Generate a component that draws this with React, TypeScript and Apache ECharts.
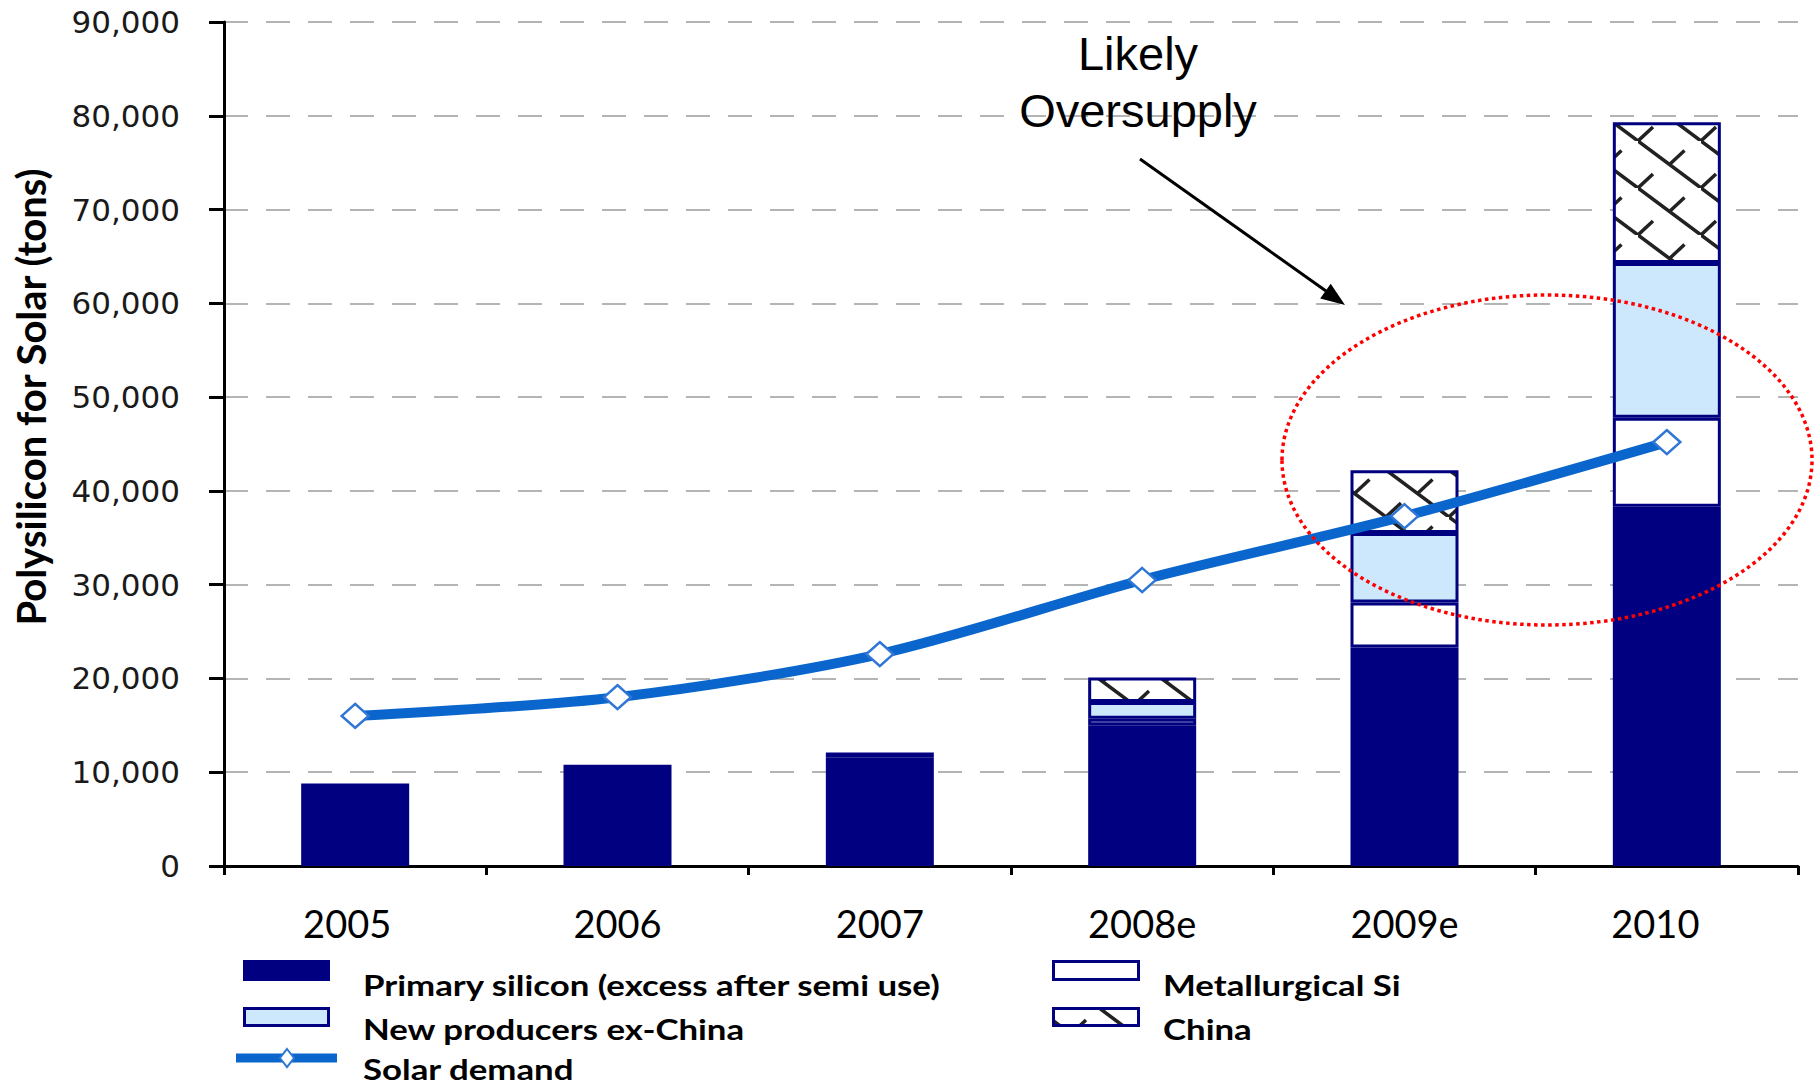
import React, { useEffect, useRef } from 'react';
import * as echarts from 'echarts';

// ---------- data ----------
const categories = ['2005', '2006', '2007', '2008e', '2009e', '2010'];
const primarySilicon = [8800, 10800, 11600, 15000, 23300, 38300];
const metallurgicalSi = [null, null, 500, 700, 4800, 9500];
const newProducersExChina = [null, null, null, 1800, 7400, 16500];
const chinaSupply = [null, null, null, 2600, 6700, 15000];
const solarDemand = [16000, 18000, 22600, 30500, 37300, 45200];
const yMin = 0;
const yMax = 90000;
const yInterval = 10000;

const seriesNames = {
  primary: 'Primary silicon (excess after semi use)',
  newProd: 'New producers ex-China',
  demand: 'Solar demand',
  metal: 'Metallurgical Si',
  china: 'China',
};

const NAVY = '#000080';
const LIGHT_BLUE = '#CDE8FC';
const LINE_BLUE = '#0A66CC';
const DIAMOND_BORDER = '#2F76D6';

function makeShinglePattern(): HTMLCanvasElement {
  const W = 63;
  const H = 47;
  const c = document.createElement('canvas');
  c.width = W;
  c.height = H;
  const ctx = c.getContext('2d')!;
  ctx.fillStyle = '#ffffff';
  ctx.fillRect(0, 0, W, H);
  ctx.strokeStyle = '#222222';
  ctx.lineWidth = 3.5;
  ctx.beginPath();
  ctx.moveTo(-2, -1.5);
  ctx.lineTo(W + 2, H + 1.5);
  ctx.moveTo(W / 2, H / 2);
  ctx.lineTo(W / 2 + 15, H / 2 - 14);
  ctx.moveTo(0, H);
  ctx.lineTo(15, H - 14);
  ctx.moveTo(W, H);
  ctx.lineTo(W + 15, H - 14);
  ctx.moveTo(W, 0);
  ctx.lineTo(W + 15, -14);
  ctx.stroke();
  return c;
}

export default function App() {
  const ref = useRef<HTMLDivElement>(null);

  useEffect(() => {
    if (!ref.current) return;
    const chart = echarts.init(ref.current, undefined, { renderer: 'svg' });
    const pattern = { image: makeShinglePattern(), repeat: 'repeat' };

    const barBase = {
      type: 'bar',
      stack: 'supply',
      barWidth: 108,
      emphasis: { disabled: true },
    };

    const legendFont = {
      fontFamily: 'Lato',
      fontWeight: 'bold',
      fontSize: 29,
      lineHeight: 30,
      fill: '#000',
      align: 'left',
      verticalAlign: 'middle',
    };
    const legendText = (text: string, x: number, y: number) => ({
      type: 'text',
      x,
      y,
      scaleX: 1.2,
      z: 100,
      style: { ...legendFont, text, x: 0, y: 0 },
    });

    const xLabelFont = { fontFamily: 'Lato', fontSize: 38, color: '#000' };

    const option: any = {
      animation: false,
      backgroundColor: '#ffffff',
      grid: { left: 224, right: 16, top: 22, bottom: 222, containLabel: false },
      xAxis: {
        type: 'category',
        data: categories,
        boundaryGap: true,
        axisLine: { lineStyle: { color: '#000', width: 3 } },
        axisTick: { show: true, length: 9, lineStyle: { color: '#000', width: 3 } },
        axisLabel: {
          ...xLabelFont,
          margin: 38,
          formatter: (v: string, i: number) =>
            i === 0 ? `{a|${v}}` : i === categories.length - 1 ? `{b|${v}}` : `{n|${v}}`,
          rich: {
            n: { ...xLabelFont },
            a: { ...xLabelFont, padding: [0, 16, 0, 0] },
            b: { ...xLabelFont, padding: [0, 23, 0, 0] },
          },
        },
        splitLine: { show: false },
      },
      yAxis: {
        type: 'value',
        min: yMin,
        max: yMax,
        interval: yInterval,
        name: 'Polysilicon for Solar (tons)',
        nameLocation: 'middle',
        nameGap: 173,
        nameTextStyle: {
          fontFamily: 'Lato',
          fontWeight: 'bold',
          fontSize: 40,
          color: '#000',
          padding: [0, 0, 0, 94],
        },
        axisLine: { show: true, lineStyle: { color: '#000', width: 3 } },
        axisTick: { show: true, length: 15, lineStyle: { color: '#000', width: 3 } },
        axisLabel: {
          fontFamily: 'DejaVu Sans',
          fontSize: 31,
          color: '#1a1a1a',
          margin: 44,
          formatter: (v: number) => v.toLocaleString('en-US'),
        },
        splitLine: { show: true, lineStyle: { color: '#b4b4b4', width: 2, type: [24, 18] } },
      },
      series: [
        {
          ...barBase,
          name: seriesNames.primary,
          data: primarySilicon,
          itemStyle: { color: NAVY },
        },
        {
          ...barBase,
          name: seriesNames.metal,
          data: metallurgicalSi,
          itemStyle: { color: '#ffffff', borderColor: NAVY, borderWidth: 3 },
        },
        {
          ...barBase,
          name: seriesNames.newProd,
          data: newProducersExChina,
          itemStyle: { color: LIGHT_BLUE, borderColor: NAVY, borderWidth: 3 },
        },
        {
          ...barBase,
          name: seriesNames.china,
          data: chinaSupply,
          itemStyle: { color: pattern, borderColor: NAVY, borderWidth: 3 },
        },
        {
          name: seriesNames.demand,
          type: 'line',
          data: solarDemand,
          smooth: 0.3,
          symbol: 'diamond',
          symbolSize: [27, 24],
          z: 5,
          lineStyle: { color: LINE_BLUE, width: 10 },
          itemStyle: { color: '#ffffff', borderColor: DIAMOND_BORDER, borderWidth: 2.5 },
          emphasis: { disabled: true },
        },
      ],
      graphic: [
        // annotation
        {
          type: 'text',
          z: 100,
          style: {
            text: 'Likely',
            x: 1138,
            y: 53,
            align: 'center',
            verticalAlign: 'middle',
            fontFamily: 'Liberation Sans',
            fontSize: 47,
            fill: '#000',
          },
        },
        {
          type: 'text',
          z: 100,
          style: {
            text: 'Oversupply',
            x: 1138,
            y: 110,
            align: 'center',
            verticalAlign: 'middle',
            fontFamily: 'Liberation Sans',
            fontSize: 47,
            fill: '#000',
          },
        },
        {
          type: 'line',
          z: 100,
          shape: { x1: 1140, y1: 159, x2: 1326, y2: 291 },
          style: { stroke: '#000', lineWidth: 3 },
        },
        {
          type: 'polygon',
          z: 100,
          shape: { points: [[1345, 305], [1320.2, 298.4], [1330.7, 283.8]] },
          style: { fill: '#000' },
        },
        {
          type: 'ellipse',
          z: 100,
          shape: { cx: 1547, cy: 460, rx: 265, ry: 165 },
          style: { fill: 'none', stroke: '#ff0000', lineWidth: 3.5, lineDash: [3.5, 3.5] },
        },
        // legend (left column)
        {
          type: 'rect',
          z: 100,
          shape: { x: 243, y: 960, width: 87, height: 21 },
          style: { fill: NAVY },
        },
        legendText(seriesNames.primary, 363, 985),
        {
          type: 'rect',
          z: 100,
          shape: { x: 244.5, y: 1008.5, width: 84, height: 17 },
          style: { fill: LIGHT_BLUE, stroke: NAVY, lineWidth: 3 },
        },
        legendText(seriesNames.newProd, 363, 1029),
        {
          type: 'line',
          z: 100,
          shape: { x1: 236, y1: 1058, x2: 337, y2: 1058 },
          style: { stroke: LINE_BLUE, lineWidth: 9 },
        },
        {
          type: 'polygon',
          z: 101,
          shape: { points: [[287, 1049], [294, 1058], [287, 1067], [280, 1058]] },
          style: { fill: '#ffffff', stroke: DIAMOND_BORDER, lineWidth: 2 },
        },
        legendText(seriesNames.demand, 363, 1069),
        // legend (right column)
        {
          type: 'rect',
          z: 100,
          shape: { x: 1053.5, y: 961.5, width: 85, height: 18 },
          style: { fill: '#ffffff', stroke: NAVY, lineWidth: 3 },
        },
        legendText(seriesNames.metal, 1163, 985),
        {
          type: 'rect',
          z: 100,
          shape: { x: 1053.5, y: 1008.5, width: 85, height: 17 },
          style: { fill: pattern, stroke: NAVY, lineWidth: 3 },
        },
        legendText(seriesNames.china, 1163, 1029),
      ],
    };

    chart.setOption(option);
    return () => chart.dispose();
  }, []);

  return (
    <div
      ref={ref}
      style={{ position: 'fixed', left: 0, top: 0, width: 1814, height: 1088, background: '#fff' }}
    />
  );
}
